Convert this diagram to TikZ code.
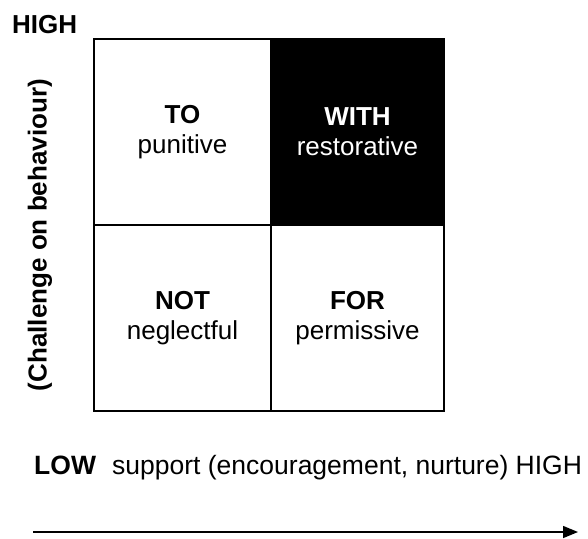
\documentclass[tikz,border=0pt]{standalone}
\usepackage{fontspec}
\setmainfont{Liberation Sans}
\usetikzlibrary{arrows.meta}
\begin{document}
\begin{tikzpicture}[x=1pt,y=-1pt,
  big/.style={font=\fontsize{26}{30}\selectfont},
  bigger/.style={font=\fontsize{26.5}{30}\selectfont},
  cell/.style={big,draw=black,line width=2.5pt,minimum width=177pt,minimum height=186pt,align=center,inner sep=0pt,outer sep=0pt},
  cellR/.style={cell,minimum width=173pt},
  axis/.style={line width=1.5pt,-{Triangle[length=15pt,width=12pt]}}]
\useasboundingbox (0,0) rectangle (588,538);
\fill[white] (0,0) rectangle (588,538);
\node[cell] (to) at (182.5,132) {\textbf{TO}\\punitive};
\node[cellR,fill=black,text=white] (with) at (357.5,132) {\textbf{WITH}\\restorative};
\node[cell] (not) at (182.5,318) {\textbf{NOT}\\neglectful};
\node[cellR] (for) at (357.5,318) {\textbf{FOR}\\permissive};
\node[big,anchor=base west,inner sep=0pt] (high) at (12,33) {\textbf{HIGH}};
\node[big,rotate=90,inner sep=0pt] (chal) at (40,235) {\textbf{(Challenge on behaviour)}};
\node[bigger,anchor=base west,inner sep=0pt] (low) at (34,474) {\textbf{LOW}};
\node[bigger,anchor=base west,inner sep=0pt] (sup) at (112,474) {support (encouragement, nurture) HIGH};
\coordinate (a0) at (33,532);
\coordinate (a1) at (578,532);
\draw[axis] (a0) -- (a1);
\end{tikzpicture}
\end{document}
